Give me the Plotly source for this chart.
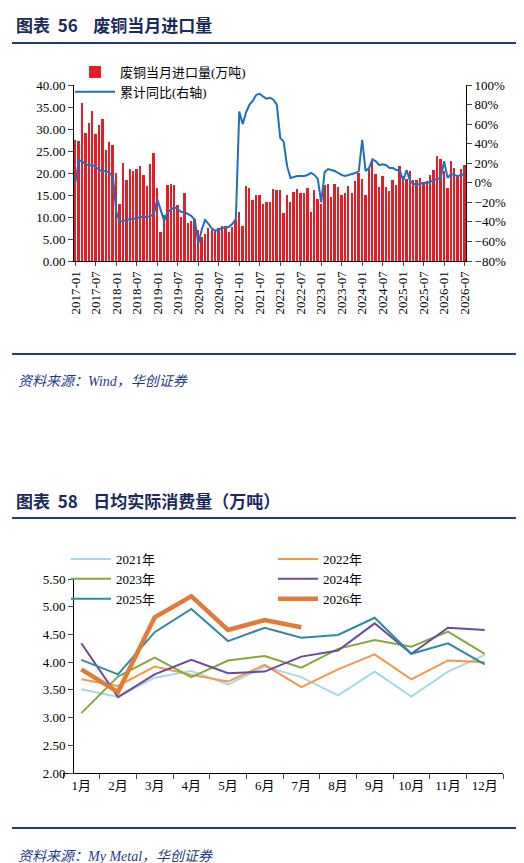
import plotly.graph_objects as go

months = [f"{y}-{m:02d}" for y in range(2017, 2027) for m in range(1, 13)][:115]
imports = [27.5,27.3,35.8,29.2,31.4,34.0,28.8,31.0,32.2,25.2,27.1,26.4,
           19.9,13.0,22.3,18.4,20.9,20.4,21.0,21.7,19.6,17.0,22.1,24.6,
           16.7,6.5,10.5,17.3,17.5,17.2,12.8,9.9,15.4,8.7,9.0,9.5,
           7.1,5.5,6.2,7.6,7.0,6.9,7.4,8.0,7.9,6.7,7.8,9.3,
           11.2,8.0,17.1,16.7,13.9,15.0,14.9,12.9,13.4,13.3,16.4,16.2,
           16.2,11.0,15.0,13.5,15.7,16.4,15.5,15.5,16.6,11.2,16.1,14.0,
           12.9,17.3,17.6,14.5,17.6,16.9,14.9,15.5,17.0,15.5,18.2,19.9,
           18.6,15.1,20.9,22.7,19.8,16.8,19.3,16.9,16.0,18.3,17.3,21.7,
           19.3,18.6,20.4,18.4,18.3,18.8,17.9,18.2,19.6,20.7,23.9,23.2,
           20.5,16.7,22.8,21.2,19.3,21.0,21.9]
yoy = [0,23,22,19,18,18,16,13,12,12,10,6,
       -30,-40,-39,-38,-37,-37,-36,-35,-35,-35,-34,-32,
       -17,-28,-39,-30,-27,-25,-27,-30,-30,-32,-34,-38,
       -62,-48,-38,-42,-47,-49,-48,-46,-46,-45,-42,-37,
       73,60,72,80,84,90,91,88,86,87,85,80,
       46,42,17,5,6,7,7,7,8,10,8,4,
       -20,11,14,13,12,10,8,7,8,9,10,12,
       44,12,15,24,22,18,19,18,15,15,13,13,
       2,13,2,-1,-2,-1,0,0,1,3,4,5,
       22,5,9,8,7,8,9]
tick_idx = list(range(0, 115, 6))
tick_txt = [months[i] for i in tick_idx]

month_labels = [f"{i}月" for i in range(1, 13)]
consumption = {
    "2021年": [3.51,3.37,3.72,3.84,3.60,3.92,3.73,3.40,3.83,3.38,3.83,4.13],
    "2022年": [3.69,3.57,3.92,3.77,3.65,3.95,3.55,3.87,4.14,3.69,4.03,4.00],
    "2023年": [3.08,3.74,4.08,3.73,4.03,4.11,3.90,4.24,4.40,4.28,4.55,4.15],
    "2024年": [4.34,3.37,3.78,4.04,3.80,3.83,4.10,4.21,4.70,4.15,4.62,4.58],
    "2025年": [4.04,3.78,4.54,4.96,4.38,4.62,4.44,4.49,4.80,4.15,4.34,3.96],
    "2026年": [3.87,3.46,4.81,5.19,4.58,4.76,4.63],
}
colors = {"2021年":"#a8d8e8","2022年":"#f79646","2023年":"#86a83a",
          "2024年":"#6b4a9a","2025年":"#2f8aa0","2026年":"#e07b39"}
widths = {"2026年":4.5}

W, H = 524, 863
def py(p): return 1 - p/H
def px(p): return p/W

SER = "Liberation Serif, Noto Sans CJK SC"
fig = go.Figure()
fig.add_trace(go.Bar(x=list(range(115)), y=imports, name="废铜当月进口量(万吨)",
                     marker_color="#e41e26", marker_line_width=0, width=0.55,
                     xaxis="x", yaxis="y", legend="legend"))
fig.add_trace(go.Scatter(x=list(range(115)), y=yoy, name="累计同比(右轴)", mode="lines",
                         line=dict(color="#1f6fc0", width=2), xaxis="x", yaxis="y2", legend="legend"))
for k, v in consumption.items():
    fig.add_trace(go.Scatter(x=month_labels[:len(v)], y=v, name=k, mode="lines",
                             line=dict(color=colors[k], width=widths.get(k, 2)),
                             xaxis="x3", yaxis="y3", legend="legend2"))

axfont = dict(family=SER, size=13, color="black")
fig.update_layout(
    width=W, height=H, margin=dict(l=0, r=0, t=0, b=0, autoexpand=False),
    paper_bgcolor="white", plot_bgcolor="white", bargap=0,
    font=dict(family=SER, size=12, color="black"),
    xaxis=dict(domain=[px(66), px(458)], anchor="y", range=[-0.4, 114.4],
               tickvals=tick_idx, ticktext=tick_txt, tickangle=-90, tickfont=axfont,
               showline=True, linecolor="black", ticks="outside", ticklen=4, showgrid=False),
    yaxis=dict(domain=[py(253), py(77)], range=[0, 40], dtick=5, tickformat=".2f",
               tickfont=axfont, showline=True, linecolor="black", ticks="outside",
               showgrid=False, zeroline=False),
    yaxis2=dict(overlaying="y", side="right", anchor="x", range=[-80, 100], dtick=20,
                ticksuffix="%", tickfont=axfont, showline=True, linecolor="black",
                ticks="outside", showgrid=False, zeroline=False),
    xaxis3=dict(domain=[px(55), px(495)], anchor="y3", type="category",
                categoryarray=month_labels, range=[-0.5, 11.5], tickfont=axfont,
                showline=True, linecolor="black", ticks="outside", tickson="boundaries",
                ticklen=5, showgrid=False),
    yaxis3=dict(domain=[py(765), py(571)], range=[2, 5.5], dtick=0.5, tickformat=".2f",
                tickfont=axfont, showline=True, linecolor="black", ticks="outside",
                showgrid=False, zeroline=False),
    legend=dict(orientation="h", x=px(62), y=py(74), yanchor="middle", xanchor="left",
                entrywidth=228, itemwidth=40, font=dict(family=SER, size=13),
                bgcolor="rgba(0,0,0,0)"),
    legend2=dict(orientation="h", x=px(58), y=py(536), yanchor="top", xanchor="left",
                 entrywidth=152, itemwidth=40, font=dict(family=SER, size=13),
                 bgcolor="rgba(0,0,0,0)"),
    showlegend=True,
)
navy = "#1f3c88"
for yl in [35, 346, 510, 820]:
    fig.add_shape(type="line", xref="paper", yref="paper", x0=px(4), x1=px(518),
                  y0=py(yl), y1=py(yl), line=dict(color=navy, width=2))
def title(t, yp):
    fig.add_annotation(text=t, xref="paper", yref="paper", x=px(6), y=py(yp),
                       xanchor="left", yanchor="middle", showarrow=False,
                       font=dict(family="Noto Sans CJK SC", size=17, color="#1a2a5a"))
title("<b>图表  56    废铜当月进口量</b>", 17)
title("<b>图表  58    日均实际消费量（万吨）</b>", 492)
def src(t, yp):
    fig.add_annotation(text=f"<i>{t}</i>", xref="paper", yref="paper", x=px(8), y=py(yp),
                       xanchor="left", yanchor="middle", showarrow=False,
                       font=dict(family=SER, size=14, color=navy))
src("资料来源：Wind，华创证券", 373)
src("资料来源：My Metal，华创证券", 848)
fig.write_html("out.html")
